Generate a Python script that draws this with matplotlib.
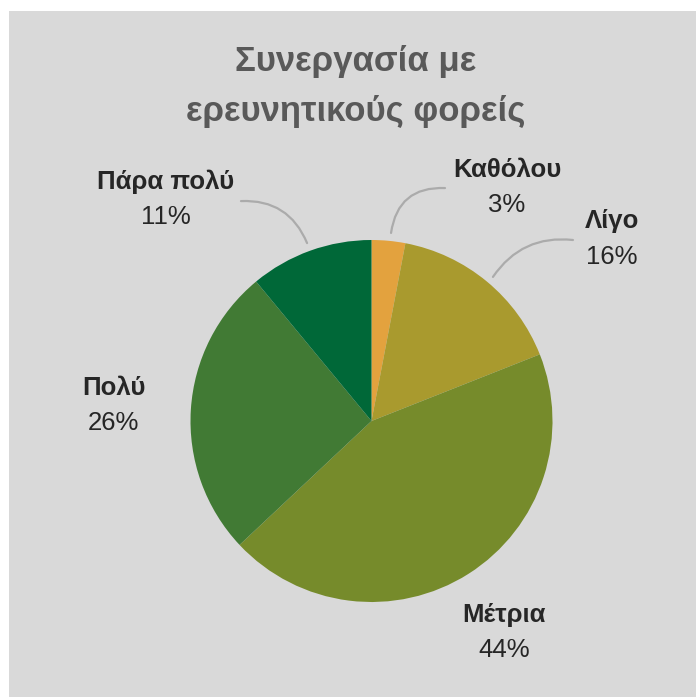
import matplotlib
matplotlib.use('Agg')
import matplotlib.pyplot as plt
from matplotlib.patches import Rectangle

plt.rcParams['font.family'] = ['Liberation Sans', 'DejaVu Sans']

# Data
categories = ['Καθόλου', 'Λίγο', 'Μέτρια', 'Πολύ', 'Πάρα πολύ']
values     = [3, 16, 44, 26, 11]
colors     = ['#E3A23E', '#A99A2E', '#768B2B', '#417A34', '#006838']

# label baseline positions (pie radius units) and leader lines (start on pie, end at label)
label_pos = [(0.749, 1.350), (1.329, 1.066), (0.732, -1.109), (-1.424, 0.144), (-1.136, 1.282)]
leaders   = {0: ((0.108, 1.039), (0.406, 1.287), 0.45),
             1: ((0.671, 0.796), (1.113, 1.000), 0.30),
             4: ((-0.356, 0.983), (-0.721, 1.215), -0.35)}

W, H = 696, 697
fig = plt.figure(figsize=(W/100, H/100), dpi=100)
fig.patch.set_facecolor('white')
fig.patches.append(Rectangle((9/W, 0), 1 - 9/W, 1 - 11/H, transform=fig.transFigure,
                             facecolor='#D9D9D9', edgecolor='none', zorder=-5))

# pie axes: center (371.5, 421) px, radius 181 px
cx, cy, r = 371.5, 421, 181
ax = fig.add_axes([(cx - r)/W, (H - cy - r)/H, 2*r/W, 2*r/H])
ax.set_zorder(2)
ax.set_facecolor('none')
ax.pie(values, colors=colors, startangle=90, counterclock=False, radius=1,
       wedgeprops=dict(linewidth=0))
ax.set_xlim(-1, 1)
ax.set_ylim(-1, 1)
ax.set_aspect('equal')
ax.axis('off')

for i, (name, v) in enumerate(zip(categories, values)):
    x, y = label_pos[i]
    ax.text(x, y, name, ha='center', va='baseline', fontsize=18.5, fontweight='bold',
            color='#262626', clip_on=False)
    ax.text(x, y - 0.196, f'{v}%', ha='center', va='baseline', fontsize=18.5,
            color='#262626', clip_on=False)

for i, (p0, p1, rad) in leaders.items():
    ax.annotate('', xy=p0, xytext=p1,
                arrowprops=dict(arrowstyle='-', color='#ABABAB', lw=1.6,
                                connectionstyle=f'arc3,rad={rad}', shrinkA=0, shrinkB=0),
                annotation_clip=False)

fig.text(355.5/W, 1 - 62/H, 'Συνεργασία με', ha='center', va='center',
         fontsize=25, fontweight='bold', color='#595959')
fig.text(355.5/W, 1 - 112/H, 'ερευνητικούς φορείς', ha='center', va='center',
         fontsize=25, fontweight='bold', color='#595959')

fig.savefig('out.png', dpi=100)
